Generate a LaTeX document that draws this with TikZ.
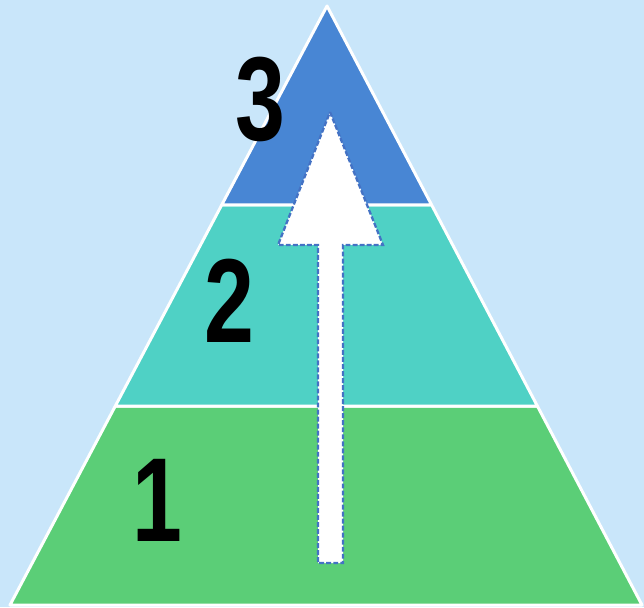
\documentclass[tikz,border=0pt]{standalone}
\usepackage{fontspec}
\newfontfamily\digitfont[FakeStretch=0.75]{Liberation Sans}
\usetikzlibrary{calc}
\definecolor{SkyBack}{HTML}{C9E6FA}
\definecolor{TopTier}{HTML}{4886D4}
\definecolor{MidTier}{HTML}{4FD1C5}
\definecolor{BaseTier}{HTML}{5BCE77}
\definecolor{ArrowEdge}{HTML}{4472C4}

\begin{document}
\begin{tikzpicture}[x=0.02cm,y=-0.02cm,
    tier/.style={draw=white,line width=1.7pt,line join=round},
    tierlabel/.style={inner sep=0pt,text=black,
      font=\digitfont\bfseries\fontsize{68}{68}\selectfont},
    uparrow/.style={fill=white,draw=ArrowEdge,line width=1.3pt,
      dash pattern=on 2.8pt off 1.2pt}
  ]
    \fill[SkyBack] (0,0) rectangle (644,607);
    \useasboundingbox (0,0) rectangle (644,607);
    % pyramid corners and tier borders
    \coordinate (apex) at (327,6);
    \coordinate (baseL) at (10,605);
    \coordinate (baseR) at (642,605);
    \coordinate (midL) at ($(baseL)!0.3322!(apex)$);
    \coordinate (midR) at ($(baseR)!0.3322!(apex)$);
    \coordinate (topL) at ($(baseL)!0.6678!(apex)$);
    \coordinate (topR) at ($(baseR)!0.6678!(apex)$);
    \filldraw[tier,fill=BaseTier] (baseL) -- (baseR) -- (midR) -- (midL) -- cycle;
    \filldraw[tier,fill=MidTier] (midL) -- (midR) -- (topR) -- (topL) -- cycle;
    \filldraw[tier,fill=TopTier] (topL) -- (topR) -- (apex) -- cycle;
    % block arrow pointing up
    \filldraw[uparrow] (330,112) -- (383,245) -- (343,245) -- (343,563)
      -- (318,563) -- (318,245) -- (278,245) -- cycle;
    \node[tierlabel] (lvl3) at (260,99) {3};
    \node[tierlabel] (lvl2) at (229,301) {2};
    \node[tierlabel] (lvl1) at (157,500) {1};
  \end{tikzpicture}
\end{document}
